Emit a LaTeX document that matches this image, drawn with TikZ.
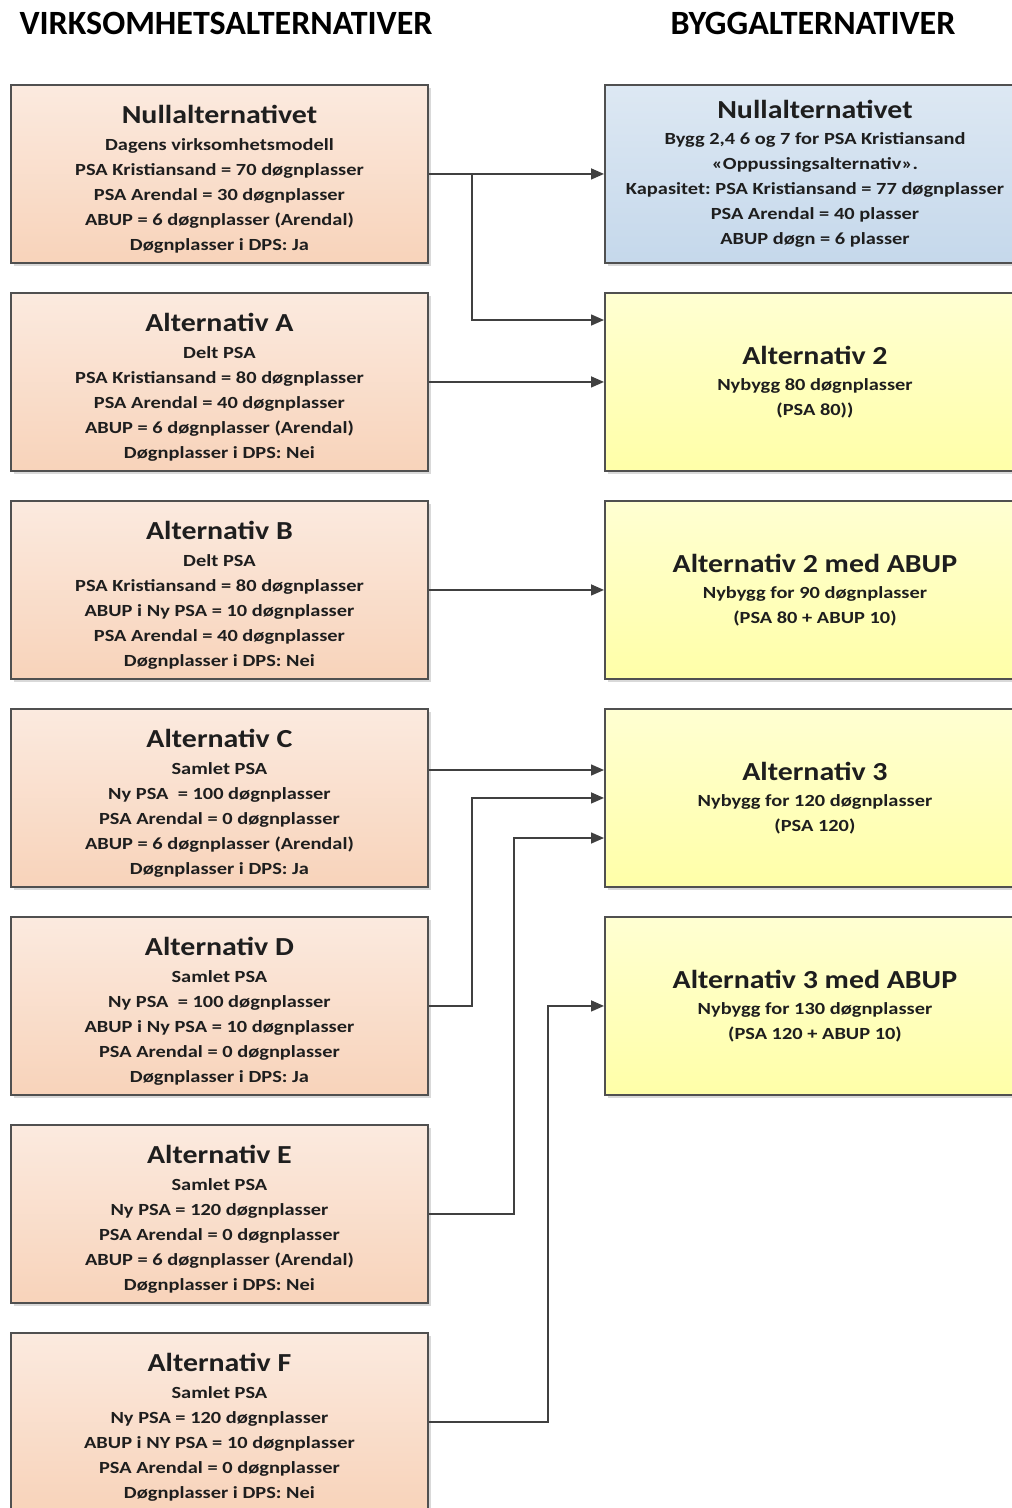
\documentclass[tikz,border=0pt]{standalone}
\usepackage{fontspec}
\setmainfont{Carlito}
\newfontfamily\subfont[FakeStretch=1.2]{Carlito}
\newfontfamily\titlefont[FakeStretch=1.15]{Carlito}
\usetikzlibrary{arrows.meta,shadows,calc}

\definecolor{peachtop}{HTML}{FBEADF}
\definecolor{peachbot}{HTML}{F8D3BA}
\definecolor{bluetop}{HTML}{DDE8F3}
\definecolor{bluebot}{HTML}{C5D8EB}
\definecolor{yellowtop}{HTML}{FFFFD2}
\definecolor{yellowbot}{HTML}{FFFFA8}
\definecolor{edge}{HTML}{505050}
\definecolor{ink}{HTML}{1E1E1E}

\tikzset{
  altbox/.style={draw=edge, line width=1.9pt, minimum width=417pt, minimum height=178pt,
    inner sep=0pt, anchor=north west, align=center, text=ink,
    font=\subfont\bfseries\fontsize{17}{25}\selectfont\frenchspacing,
    drop shadow={shadow xshift=3pt, shadow yshift=-3pt, fill=black!25, opacity=0.6}},
  virk/.style={altbox, top color=peachtop, bottom color=peachbot},
  bygg/.style={altbox, minimum width=420pt},
  nullbygg/.style={bygg, top color=bluetop, bottom color=bluebot},
  nybygg/.style={bygg, top color=yellowtop, bottom color=yellowbot},
  conn/.style={draw=edge!80!black, line width=1.6pt, -{Triangle[length=13pt,width=11pt]}},
  header/.style={font=\fontsize{34}{38}\selectfont\bfseries, text=black, inner sep=0pt}
}
% box heading line; the optional argument raises the top of the line
\newcommand{\boxtitle}[2][0pt]{{\titlefont\bfseries\fontsize{26}{30}\selectfont\rule{0pt}{#1}#2}\\[1.5pt]}

\begin{document}
\begin{tikzpicture}[x=1pt, y=-1pt]
\useasboundingbox (0,0) rectangle (1012,1508);

% column headings
\node[header] (hv) at (226,23) {VIRKSOMHETSALTERNATIVER};
\node[header] (hb) at (813,23) {BYGGALTERNATIVER};

% operational alternatives (left column)
\node[virk] (n0) at (10,84) {\boxtitle[29pt]{Nullalternativet}Dagens virksomhetsmodell\\PSA Kristiansand = 70 døgnplasser\\PSA Arendal = 30 døgnplasser\\ABUP = 6 døgnplasser (Arendal)\\Døgnplasser i DPS: Ja};
\node[virk] (va) at (10,292) {\boxtitle[29pt]{Alternativ A}Delt PSA\\PSA Kristiansand = 80 døgnplasser\\PSA Arendal = 40 døgnplasser\\ABUP = 6 døgnplasser (Arendal)\\Døgnplasser i DPS: Nei};
\node[virk] (vb) at (10,500) {\boxtitle[29pt]{Alternativ B}Delt PSA\\PSA Kristiansand = 80 døgnplasser\\ABUP i Ny PSA = 10 døgnplasser\\PSA Arendal = 40 døgnplasser\\Døgnplasser i DPS: Nei};
\node[virk] (vc) at (10,708) {\boxtitle[29pt]{Alternativ C}Samlet PSA\\Ny PSA\ \ = 100 døgnplasser\\PSA Arendal = 0 døgnplasser\\ABUP = 6 døgnplasser (Arendal)\\Døgnplasser i DPS: Ja};
\node[virk] (vd) at (10,916) {\boxtitle[29pt]{Alternativ D}Samlet PSA\\Ny PSA\ \ = 100 døgnplasser\\ABUP i Ny PSA = 10 døgnplasser\\PSA Arendal = 0 døgnplasser\\Døgnplasser i DPS: Ja};
\node[virk] (ve) at (10,1124) {\boxtitle[29pt]{Alternativ E}Samlet PSA\\Ny PSA = 120 døgnplasser\\PSA Arendal = 0 døgnplasser\\ABUP = 6 døgnplasser (Arendal)\\Døgnplasser i DPS: Nei};
\node[virk] (vf) at (10,1332) {\boxtitle[29pt]{Alternativ F}Samlet PSA\\Ny PSA = 120 døgnplasser\\ABUP i NY PSA = 10 døgnplasser\\PSA Arendal = 0 døgnplasser\\Døgnplasser i DPS: Nei};

% building alternatives (right column)
\node[nullbygg] (b0) at (604,84) {\boxtitle{Nullalternativet}Bygg 2,4 6 og 7 for PSA Kristiansand\\«Oppussingsalternativ».\\Kapasitet: PSA Kristiansand = 77 døgnplasser\\PSA Arendal = 40 plasser\\ABUP døgn = 6 plasser};
\node[nybygg] (b2) at (604,292) {\boxtitle{Alternativ 2}Nybygg 80 døgnplasser\\(PSA 80))};
\node[nybygg] (b2a) at (604,500) {\boxtitle{Alternativ 2 med ABUP}Nybygg for 90 døgnplasser\\(PSA 80 + ABUP 10)};
\node[nybygg] (b3) at (604,708) {\boxtitle{Alternativ 3}Nybygg for 120 døgnplasser\\(PSA 120)};
\node[nybygg] (b3a) at (604,916) {\boxtitle{Alternativ 3 med ABUP}Nybygg for 130 døgnplasser\\(PSA 120 + ABUP 10)};

% connectors
\coordinate (split) at ($(n0.east)+(43,0)$);
\coordinate (b2in) at ($(b2.north west)+(0,28)$);
\coordinate (vcout) at ($(vc.north east)+(0,62)$);
\coordinate (b3low) at ($(b3.north west)+(0,130)$);

\draw[conn] (n0.east) -- (n0.east -| b0.west);
\draw[conn] (split) |- (b2in);
\draw[conn] (va.east) -- (va.east -| b2.west);
\draw[conn] (vb.east) -- (vb.east -| b2a.west);
\draw[conn] (vcout) -- (vcout -| b3.west);
\draw[conn] (vd.east) -- ++(43,0) |- (b3.west);
\draw[conn] (ve.east) -- ++(85,0) |- (b3low);
\draw[conn] (vf.east) -- ++(119,0) |- (b3a.west);
\end{tikzpicture}
\end{document}
